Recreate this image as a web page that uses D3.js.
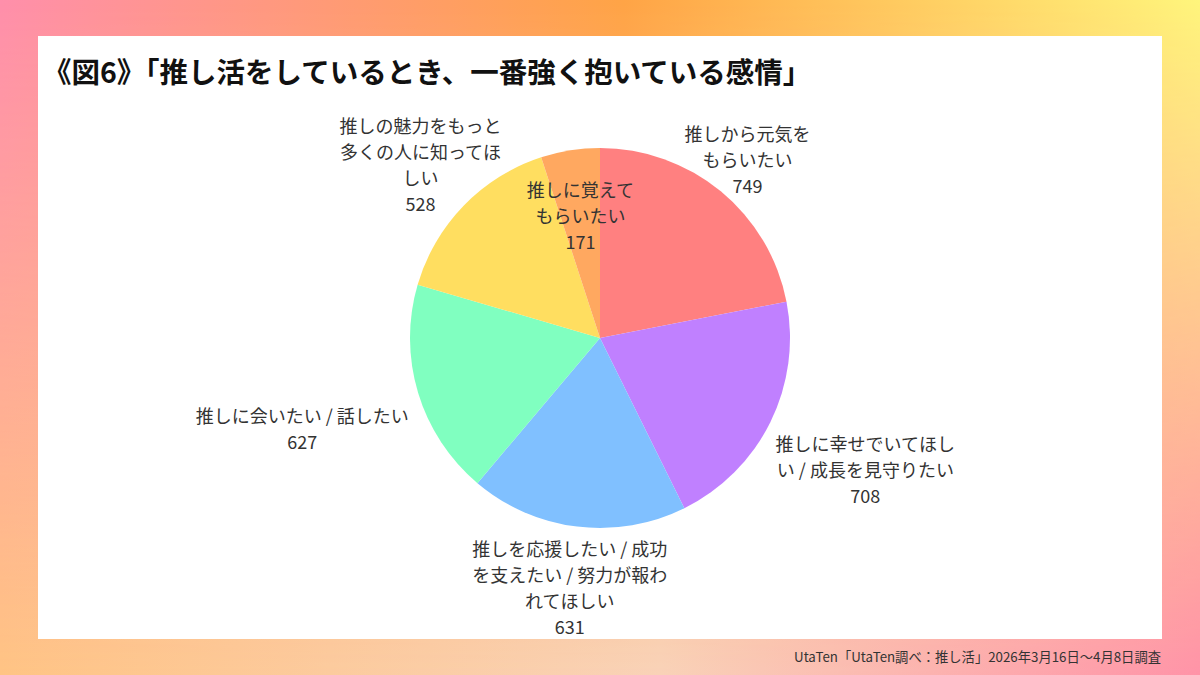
<!DOCTYPE html>
<html>
<head>
<meta charset="utf-8">
<script src="https://cdn.jsdelivr.net/npm/d3@7"></script>
<style>
  html, body { margin: 0; padding: 0; }
  body { width: 1200px; height: 675px; overflow: hidden; }
  text { font-family: "Noto Sans CJK JP", "Noto Sans", sans-serif; }
</style>
</head>
<body>
<script>
"use strict";

// data
var categories = [
    "推しから元気を\nもらいたい",
    "推しに幸せでいてほし\nい / 成長を見守りたい",
    "推しを応援したい / 成功\nを支えたい / 努力が報わ\nれてほしい",
    "推しに会いたい / 話したい",
    "推しの魅力をもっと\n多くの人に知ってほ\nしい",
    "推しに覚えて\nもらいたい"
];
var values = [749, 708, 631, 627, 528, 171];
var colors = ["#ff8080", "#c080ff", "#80c0ff", "#80ffc0", "#ffde60", "#ffa860"];

var title = "《図6》「推し活をしているとき、一番強く抱いている感情」";
var source = "UtaTen「UtaTen調べ：推し活」2026年3月16日～4月8日調査";

// label distance from the centre, one per slice
var labelDist = [232, 296, 251, 311, 250, 125];

function draw_pie() {
    var width = 1200;
    var height = 675;
    var svg = d3.select("body")
        .append("svg")
        .attr("width", width)
        .attr("height", height);

    // background gradient (top row / bottom row, blended vertically)
    var defs = svg.append("defs");
    var top_grad = defs.append("linearGradient").attr("id", "topg");
    [["0%", "#ff8fab"], ["52%", "#ffa446"], ["100%", "#fff57c"]].forEach(function(s) {
        top_grad.append("stop").attr("offset", s[0]).attr("stop-color", s[1]);
    });
    var bot_grad = defs.append("linearGradient").attr("id", "botg");
    [["0%", "#ffc484"], ["55%", "#f9d2b8"], ["100%", "#ff93a8"]].forEach(function(s) {
        bot_grad.append("stop").attr("offset", s[0]).attr("stop-color", s[1]);
    });
    var vgrad = defs.append("linearGradient").attr("id", "vg")
        .attr("x1", 0).attr("y1", 0).attr("x2", 0).attr("y2", 1);
    vgrad.append("stop").attr("offset", "0%").attr("stop-color", "#000");
    vgrad.append("stop").attr("offset", "100%").attr("stop-color", "#fff");
    defs.append("mask").attr("id", "vmask")
        .append("rect").attr("width", width).attr("height", height).attr("fill", "url(#vg)");

    svg.append("rect").attr("width", width).attr("height", height).attr("fill", "url(#topg)");
    svg.append("rect").attr("width", width).attr("height", height)
        .attr("fill", "url(#botg)").attr("mask", "url(#vmask)");

    // white panel
    svg.append("rect")
        .attr("x", 38).attr("y", 36)
        .attr("width", 1124).attr("height", 603)
        .attr("fill", "#ffffff");

    // title
    svg.append("text")
        .attr("x", 43).attr("y", 83)
        .attr("font-size", 28.5)
        .attr("font-weight", 700)
        .attr("fill", "#111")
        .text(title);

    // source
    svg.append("text")
        .attr("x", 1161).attr("y", 662)
        .attr("text-anchor", "end")
        .attr("font-size", 13.3)
        .attr("fill", "#333")
        .text(source);

    // pie
    var radius = 190;
    var g = svg.append("g").attr("transform", "translate(600, 338)");
    var idx = d3.range(values.length);
    var pie = d3.pie().sort(null).value(function(i) { return values[i]; });
    var arcs = pie(idx);
    var arc = d3.arc().innerRadius(0).outerRadius(radius);

    g.selectAll("path")
        .data(arcs)
        .enter()
        .append("path")
        .attr("d", arc)
        .attr("fill", function(d) { return colors[d.data]; });

    // labels
    var line_h = 26;
    var labels = g.selectAll("g.label")
        .data(arcs)
        .enter()
        .append("g")
        .attr("class", "label")
        .attr("transform", function(d) {
            var r = labelDist[d.data];
            var c = d3.arc().innerRadius(r).outerRadius(r).centroid(d);
            return "translate(" + c[0] + "," + c[1] + ")";
        });

    labels.each(function(d) {
        var lines = categories[d.data].split("\n").concat([String(values[d.data])]);
        var y0 = -(lines.length - 1) * line_h / 2;
        d3.select(this).selectAll("text")
            .data(lines)
            .enter()
            .append("text")
            .attr("text-anchor", "middle")
            .attr("dominant-baseline", "central")
            .attr("y", function(t, i) { return y0 + i * line_h; })
            .attr("font-size", 18)
            .attr("fill", "#333")
            .text(function(t) { return t; });
    });
}

draw_pie();
</script>
</body>
</html>
